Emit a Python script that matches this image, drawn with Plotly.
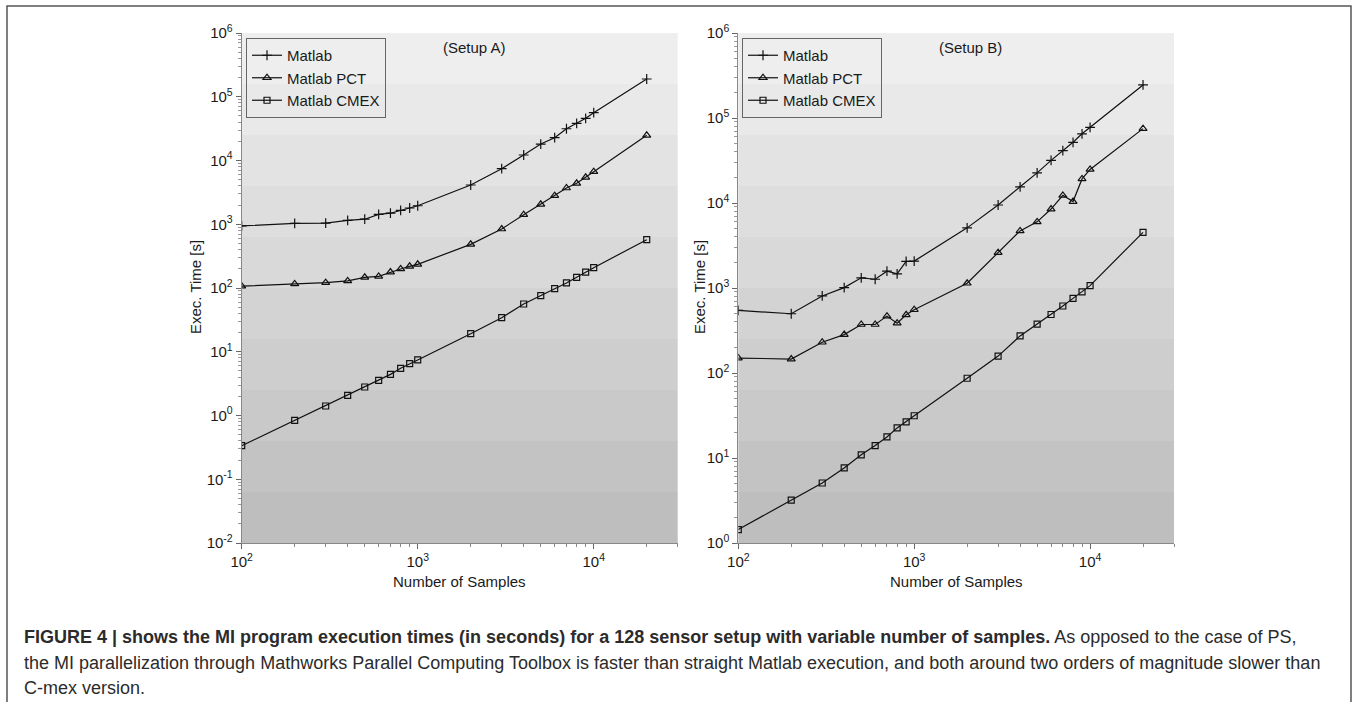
import plotly.graph_objects as go
import numpy as np

samples = [100, 200, 300, 400, 500, 600, 700, 800, 900, 1000,
           2000, 3000, 4000, 5000, 6000, 7000, 8000, 9000, 10000, 20000]

# Setup A
a_matlab = [940, 1035, 1040, 1150, 1200, 1430, 1490, 1650, 1800, 1950,
            4130, 7430, 12200, 18100, 22800, 31500, 38300, 45900, 56200, 189800]
a_pct = [107, 116, 121, 129, 147, 152, 178, 199, 219, 235,
         484, 842, 1412, 2057, 2805, 3703, 4386, 5450, 6680, 24850]
a_cmex = [0.336, 0.841, 1.41, 2.07, 2.80, 3.56, 4.42, 5.50, 6.50, 7.43,
          19.2, 34.2, 56.1, 75.7, 97.5, 120, 147, 178, 208, 573]

# Setup B
b_matlab = [545, 498, 806, 1010, 1318, 1268, 1578, 1469, 2054, 2073,
            5100, 9470, 15500, 22600, 31700, 41300, 51800, 65200, 77400, 245000]
b_pct = [150, 146, 230, 283, 372, 372, 467, 386, 484, 555,
         1137, 2606, 4700, 6000, 8490, 12300, 10400, 19200, 24800, 75000]
b_cmex = [1.44, 3.2, 5.08, 7.65, 10.9, 14.0, 17.7, 22.6, 26.6, 31.4,
          86.7, 158, 273, 375, 488, 614, 755, 898, 1067, 4520]

series_names = ["Matlab", "Matlab PCT", "Matlab CMEX"]
panel_titles = ["(Setup A)", "(Setup B)"]
x_title = "Number of Samples"
y_title = "Exec. Time [s]"
x_exponents = [2, 3, 4]
yA_exponents = [-2, -1, 0, 1, 2, 3, 4, 5, 6]
yB_exponents = [0, 1, 2, 3, 4, 5, 6]
caption_lines = [
    "<b>FIGURE 4 | shows the MI program execution times (in seconds) for a 128 sensor setup with variable number of samples.</b> As opposed to the case of PS,",
    "the MI parallelization through Mathworks Parallel Computing Toolbox is faster than straight Matlab execution, and both around two orders of magnitude slower than",
    "C-mex version.",
]

W, H = 1358, 702
FONT = "Liberation Sans, Arial, sans-serif"

def px(v):
    return v / W

def py(v):
    return 1 - v / H

def pow_labels(exps):
    return [10.0 ** e for e in exps], [f"10<sup>{e}</sup>" for e in exps]

fig = go.Figure()

symbols = ["cross-thin-open", "triangle-up-open", "square-open"]
msizes = [7, 7, 6]

panels = [
    ("x", "y", "legend", [a_matlab, a_pct, a_cmex]),
    ("x2", "y2", "legend2", [b_matlab, b_pct, b_cmex]),
]
for xa, ya, lg, data in panels:
    for name, vals, sym, ms in zip(series_names, data, symbols, msizes):
        fig.add_trace(go.Scatter(
            x=samples, y=vals, name=name, mode="lines+markers",
            xaxis=xa, yaxis=ya, legend=lg,
            line=dict(color="#111111", width=1.2),
            marker=dict(symbol=sym, size=ms, color="#111111",
                        line=dict(color="#111111", width=1.2)),
        ))

top, bottom = 33, 543
xdomA = [px(241.7), px(677.7)]
xdomB = [px(738.3), px(1174)]
ydom = [py(bottom), py(top)]

tickfont = dict(family=FONT, size=15, color="#1a1a1a")

def xaxis_cfg(dom, anchor):
    tv, tt = pow_labels(x_exponents)
    return dict(
        type="log", domain=dom, anchor=anchor, range=[2, np.log10(30000)],
        tickmode="array", tickvals=tv, ticktext=tt,
        showgrid=False, zeroline=False,
        showline=True, linecolor="#888888", linewidth=1,
        ticks="outside", ticklen=5, tickcolor="#666666", tickwidth=1,
        minor=dict(ticks="outside", ticklen=3, tickcolor="#888888", dtick="D1", showgrid=False),
        tickfont=tickfont, automargin=False,
    )

def yaxis_cfg(rng, anchor, exps):
    tv, tt = pow_labels(exps)
    return dict(
        type="log", domain=ydom, anchor=anchor, range=rng,
        tickmode="array", tickvals=tv, ticktext=tt,
        showgrid=False, zeroline=False,
        showline=True, linecolor="#888888", linewidth=1,
        ticks="outside", ticklen=5, tickcolor="#666666", tickwidth=1,
        minor=dict(ticks="outside", ticklen=3, tickcolor="#999999", dtick="D1", showgrid=False),
        tickfont=tickfont, automargin=False,
    )

shapes = []
# gradient bands
nb = 10
c_top, c_bot = 0xEE, 0xBE
for xr, yr in [("x domain", "y domain"), ("x2 domain", "y2 domain")]:
    for i in range(nb):
        c = int(round(c_top + (c_bot - c_top) * i / (nb - 1)))
        col = f"rgb({c},{c},{c})"
        shapes.append(dict(type="rect", xref=xr, yref=yr, x0=0, x1=1,
                           y0=1 - (i + 1) / nb, y1=1 - i / nb,
                           fillcolor=col, line=dict(width=0), layer="below"))
# outer frame
shapes.append(dict(type="rect", xref="paper", yref="paper",
                   x0=px(7), x1=px(1351), y0=-0.2, y1=py(6),
                   line=dict(color="#555555", width=1.5), fillcolor="rgba(0,0,0,0)"))

annotations = []
for t, cx in zip(panel_titles, [475, 970]):
    annotations.append(dict(text=t, x=px(cx), y=py(47), xref="paper", yref="paper",
                            showarrow=False, font=dict(family=FONT, size=15, color="#1a1a1a"),
                            xanchor="center", yanchor="middle"))
for cx in [459, 956]:
    annotations.append(dict(text=x_title, x=px(cx), y=py(581), xref="paper", yref="paper",
                            showarrow=False, font=dict(family=FONT, size=15, color="#1a1a1a"),
                            xanchor="center", yanchor="middle"))
for cx in [196, 700]:
    annotations.append(dict(text=y_title, x=px(cx), y=py(287), xref="paper", yref="paper",
                            showarrow=False, textangle=-90,
                            font=dict(family=FONT, size=15, color="#1a1a1a"),
                            xanchor="center", yanchor="middle"))
for line, cy in zip(caption_lines, [637, 663, 688]):
    annotations.append(dict(text=line, x=px(22), y=py(cy), xref="paper", yref="paper",
                            showarrow=False, align="left",
                            font=dict(family=FONT, size=18, color="#2b2b2b"),
                            xanchor="left", yanchor="middle"))

legend_common = dict(
    xanchor="left", yanchor="top", bgcolor="rgba(0,0,0,0)",
    bordercolor="#666666", borderwidth=1,
    font=dict(family=FONT, size=15, color="#1a1a1a"),
    tracegroupgap=0, itemwidth=30,
)

fig.update_layout(
    width=W, height=H,
    margin=dict(l=0, r=0, t=0, b=0),
    paper_bgcolor="white", plot_bgcolor="rgba(0,0,0,0)",
    xaxis=xaxis_cfg(xdomA, "y"),
    yaxis=yaxis_cfg([-2, 6], "x", yA_exponents),
    xaxis2=xaxis_cfg(xdomB, "y2"),
    yaxis2=yaxis_cfg([0, 6], "x2", yB_exponents),
    legend=dict(x=px(246), y=py(38), **legend_common),
    legend2=dict(x=px(742), y=py(38), **legend_common),
    shapes=shapes,
    annotations=annotations,
    showlegend=True,
)

fig.write_html("out.html")
